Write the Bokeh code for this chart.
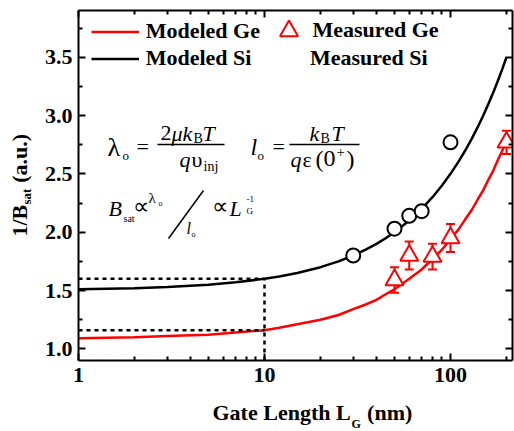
import math
from bokeh.plotting import figure
from bokeh.models import (Legend, LegendItem, Label, Arrow, Whisker, TeeHead, ColumnDataSource,
                          FixedTicker, PrintfTickFormatter, CustomJSTickFormatter, LinearAxis, LogAxis)
from bokeh.embed import file_html
from bokeh.resources import INLINE

# ---------------- data ----------------
L_model = [1, 2, 3, 5, 7, 10, 12, 15, 20, 25, 30, 35, 40, 45, 50, 60, 70, 80, 90, 100,
           110, 120, 130, 140, 150, 160, 170, 180, 190, 200]
si_model = [1.51, 1.52, 1.53, 1.55, 1.57, 1.60, 1.62, 1.65, 1.70, 1.75, 1.80, 1.85, 1.90, 1.95,
            2.00, 2.10, 2.20, 2.30, 2.40, 2.50, 2.60, 2.70, 2.80, 2.90, 3.00, 3.10, 3.20, 3.30,
            3.40, 3.50]
ge_model = [1.09, 1.10, 1.11, 1.12, 1.14, 1.16, 1.18, 1.21, 1.25, 1.29, 1.34, 1.38, 1.42, 1.47,
            1.51, 1.60, 1.68, 1.77, 1.85, 1.94, 2.02, 2.11, 2.19, 2.28, 2.36, 2.45, 2.53, 2.62,
            2.70, 2.79]

si_L = [30, 50, 60, 70, 100]
si_meas = [1.80, 2.03, 2.14, 2.18, 2.77]

ge_L = [50, 60, 80, 100, 200]
ge_meas = [1.59, 1.80, 1.79, 1.95, 2.77]
ge_err = [0.11, 0.12, 0.11, 0.12, 0.10]

ref_L = 10
ref_si = 1.60
ref_ge = 1.16

y_ticks = [1.0, 1.5, 2.0, 2.5, 3.0, 3.5]
y_minor = [1.25, 1.75, 2.25, 2.75, 3.25, 3.75]
x_ticks = [1, 10, 100]
x_minor = [2, 3, 4, 5, 6, 7, 8, 9, 20, 30, 40, 50, 60, 70, 80, 90, 200]

# ---------------- layout ----------------
W, H = 514, 431
FL, FR, FT, FB = 78, 512, 10, 360
X0, X1 = 1.0, 10 ** ((FR - FL) / 186.0)
Y0, Y1 = 0.9, 3.9

FONT = "Liberation Serif"
RED = "#ff0000"
NB = "\u00a0"

p = figure(width=W, height=H, x_axis_type="log", x_range=(X0, X1), y_range=(Y0, Y1),
           output_backend="svg", toolbar_location=None,
           min_border_left=FL, min_border_right=W - FR, min_border_top=FT, min_border_bottom=H - FB)
p.outline_line_color = None
p.xgrid.visible = False
p.ygrid.visible = False
p.background_fill_color = "white"
p.border_fill_color = "white"


def style_axis(ax, labels=True):
    ax.axis_line_width = 2
    ax.axis_line_color = "black"
    ax.major_tick_line_width = 2
    ax.minor_tick_line_width = 2
    ax.major_tick_in = 7
    ax.major_tick_out = 0
    ax.minor_tick_in = 4
    ax.minor_tick_out = 0
    ax.major_label_text_font = FONT
    ax.major_label_text_font_style = "bold"
    ax.major_label_text_color = "black"
    if labels:
        ax.major_label_text_font_size = "22px"
    else:
        ax.major_label_text_font_size = "0px"
        ax.major_label_standoff = 0
        ax.formatter = CustomJSTickFormatter(code="return ''")


xt = FixedTicker(ticks=x_ticks, minor_ticks=x_minor)
yt = FixedTicker(ticks=y_ticks, minor_ticks=y_minor)

p.xaxis.ticker = xt
p.xaxis.formatter = PrintfTickFormatter(format="%d")
p.yaxis.ticker = yt
p.yaxis.formatter = PrintfTickFormatter(format="%.1f")
style_axis(p.xaxis[0])
style_axis(p.yaxis[0])
p.xaxis.major_label_standoff = 7
p.yaxis.major_label_standoff = 6

top_ax = LogAxis(ticker=xt)
right_ax = LinearAxis(ticker=yt)
style_axis(top_ax, labels=False)
style_axis(right_ax, labels=False)
p.add_layout(top_ax, "above")
p.add_layout(right_ax, "right")

# ---------------- glyphs ----------------
r_ge = p.line(L_model, ge_model, line_color=RED, line_width=2.5)
r_si = p.line(L_model, si_model, line_color="black", line_width=2.5)

p.line([X0, ref_L], [ref_si, ref_si], line_color="black", line_width=2.5, line_dash="4 4")
p.line([X0, ref_L], [ref_ge, ref_ge], line_color="black", line_width=2.5, line_dash="4 4")
p.line([ref_L, ref_L], [Y0, ref_si], line_color="black", line_width=2.5, line_dash="4 4")

ge_src = ColumnDataSource(dict(x=ge_L, y=ge_meas,
                               up=[v + e for v, e in zip(ge_meas, ge_err)],
                               lo=[v - e for v, e in zip(ge_meas, ge_err)]))
wh = Whisker(base="x", upper="up", lower="lo", source=ge_src, dimension="height",
             line_color=RED, line_width=2,
             upper_head=TeeHead(size=9, line_color=RED, line_width=2),
             lower_head=TeeHead(size=9, line_color=RED, line_width=2))
p.add_layout(wh)

r_ge_m = p.scatter("x", "y", source=ge_src, marker="triangle", size=18,
                   fill_color="white", line_color=RED, line_width=2)
r_si_m = p.scatter(si_L, si_meas, marker="circle", size=14,
                   fill_color="white", line_color="black", line_width=2)
r_dummy = p.scatter(x=[], y=[], marker="circle", size=14, fill_alpha=0, line_alpha=0)


# ---------------- legends ----------------
def make_legend(items, loc, gw, gh, standoff, spacing=0):
    lg = Legend(items=items, location=loc, orientation="vertical",
                glyph_width=gw, glyph_height=gh, label_height=gh, label_standoff=standoff,
                spacing=spacing, padding=0, margin=0,
                label_text_font=FONT, label_text_font_style="bold", label_text_font_size="22px",
                label_text_color="black",
                border_line_alpha=0, background_fill_alpha=0)
    p.add_layout(lg, "center")
    return lg


make_legend([LegendItem(label="Modeled Ge", renderers=[r_ge]),
             LegendItem(label="Modeled Si", renderers=[r_si])],
            (12.7, FB - FT - 7.5 - 54), 48, 27, 7)
make_legend([LegendItem(label="Measured Ge", renderers=[r_ge_m])],
            (187.5, FB - 7.5 - 45), 45, 45, 2)
make_legend([LegendItem(label="Measured Si", renderers=[r_dummy])],
            (185, FB - 44.2 - 27), 45, 27, 2)


# ---------------- text helpers ----------------
def dx(px):
    return 10 ** (math.log10(X0) + (px - FL) / (FR - FL) * (math.log10(X1) - math.log10(X0)))


def dy(py):
    return Y0 + (FB - py) / (FB - FT) * (Y1 - Y0)


def txt(s, px, pb, size, style="normal", angle=0.0, side="center", mid=None):
    """px: left edge (pixels); pb: text baseline (pixels); drawn with a middle anchor."""
    if angle == 0.0:
        x, y = px, pb - 0.34 * size
    else:
        x, y = mid, pb
    lbl = Label(x=dx(x), y=dy(y), text=s, text_font=FONT, text_font_size=f"{size}px",
                text_font_style=style, text_align="left", text_baseline="middle",
                text_color="black", angle=angle)
    p.add_layout(lbl, side)


def bar(px0, py0, px1, py1, w=1.3):
    p.add_layout(Arrow(end=None, x_start=dx(px0), y_start=dy(py0), x_end=dx(px1), y_end=dy(py1),
                       line_color="black", line_width=w))


# equation 1
txt("\u03bb", 107, 156, 26)
txt("o", 122, 159, 13)
txt("=", 136, 153, 22)
txt("2", 160, 140, 22)
txt("\u03bck", 171, 140, 22, "italic")
txt("B", 193, 143, 14)
txt("T", 202, 140, 22, "italic")
bar(157, 144, 224, 144)
txt("q", 179, 166, 22, "italic")
txt("\u03c5", 191, 166, 22)
txt("inj", 203, 171, 14)

# equation 2
txt("l", 250, 155, 24, "italic")
txt("o", 257, 159, 13)
txt("=", 272, 153, 22)
txt("k", 309, 140, 22, "italic")
txt("B", 320, 143, 14)
txt("T", 331, 140, 22, "italic")
bar(289, 144, 359, 144)
txt("q", 290, 166, 22, "italic")
txt("\u03b5", 302, 166, 22)
txt("(", 315, 167, 24)
txt("0", 323, 166, 24)
txt("+", 336, 157, 15)
txt(")", 346, 167, 24)

# equation 3
txt("B", 108, 215, 22, "italic")
txt("sat", 123, 221, 10)
txt("\u221d", 132, 214, 23)
txt("\u03bb", 148, 203, 15)
txt("o", 158, 206, 8)
bar(168, 238, 203, 190, 1.5)
txt("l", 186, 233, 16, "italic")
txt("o", 191, 237, 8)
txt("\u221d", 211, 214, 23)
txt("L", 229, 215, 22, "italic")
txt("-1", 246, 202, 9)
txt("G", 246, 214, 9)

# axis titles (placed in side panels so they are not clipped to the frame)
txt("Gate Length L" + NB * 3 + "(nm)", 212, 419, 22, "bold", side="below")
txt("G", 351, 428, 12, "bold", side="below")

txt("1/B" + NB * 4 + "(a.u.)", 0, 236, 22, "bold", angle=math.pi / 2, side="left", mid=19)
txt("sat", 0, 204, 13, "bold", angle=math.pi / 2, side="left", mid=26)

open("out.html", "w").write(file_html(p, INLINE))
